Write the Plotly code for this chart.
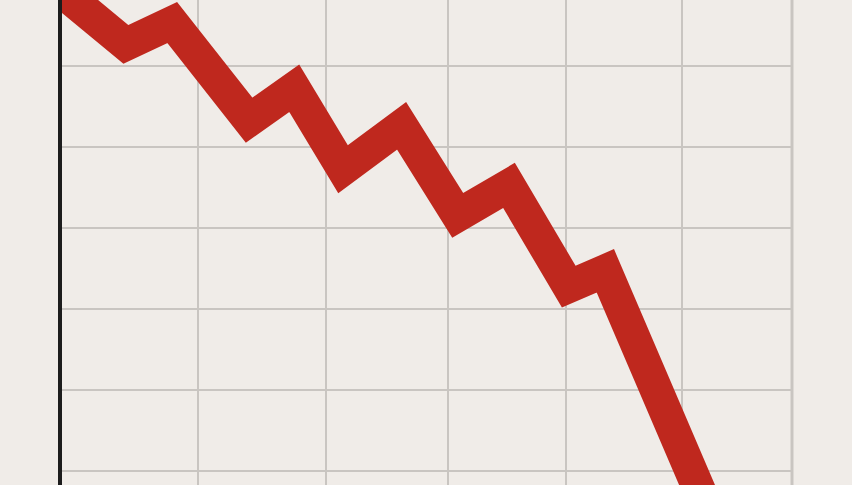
import plotly.graph_objects as go

# Data (arbitrary units)
x_vals = [-0.33, 1.08, 1.84, 3.10, 3.84, 4.64, 5.60, 6.52, 7.36, 8.34, 8.94, 10.97]
y_vals = [123.0, 105.4, 110.8, 86.7, 94.6, 74.6, 85.3, 63.2, 70.6, 45.6, 49.5, -21.9]

x_grid = [2.262, 4.361, 6.361, 8.295, 10.197]
y_grid = [0, 20, 40, 60, 80, 100]

BG = "#f0ece8"
GRID = "#c9c5c1"
RED = "#bf281e"

fig = go.Figure()
fig.add_trace(go.Scatter(
    x=x_vals, y=y_vals, mode="lines",
    line=dict(color=RED, width=33),
    hoverinfo="skip", showlegend=False,
))

fig.update_layout(
    width=852, height=485,
    margin=dict(l=62, r=60, t=0, b=0),
    paper_bgcolor=BG, plot_bgcolor=BG,
    showlegend=False,
    xaxis=dict(range=[2 / 61, 12], tickvals=x_grid, showticklabels=False,
               ticks="", showgrid=True, gridcolor=GRID, gridwidth=2,
               zeroline=False, showline=False, fixedrange=True),
    yaxis=dict(range=[-3.38, 116.37], tickvals=y_grid, showticklabels=False,
               ticks="", showgrid=True, gridcolor=GRID, gridwidth=2,
               zeroline=False, showline=True, linecolor="#1c1c1c",
               linewidth=4, fixedrange=True),
    shapes=[dict(type="line", xref="paper", yref="paper", x0=1, x1=1,
                 y0=0, y1=1, line=dict(color=GRID, width=3), layer="below")],
)

fig.write_html(
    "out.html",
    config={"displayModeBar": False},
    post_script=(
        "document.body.style.margin='0';"
        "document.body.style.overflow='hidden';"
        "document.body.style.background='" + BG + "';"
    ),
)
